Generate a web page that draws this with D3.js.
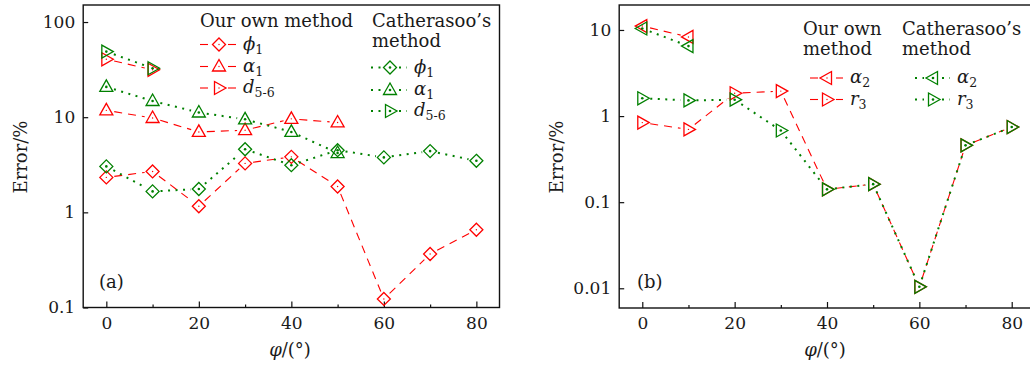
<!DOCTYPE html>
<html>
<head>
<meta charset="utf-8">
<script src="https://cdn.jsdelivr.net/npm/d3@7"></script>
<style>
body { margin: 0; background: #fff; }
text { font-family: "DejaVu Serif", serif; fill: #1a1a1a; }
</style>
</head>
<body>
<div class="canvas"></div>
<script>
// data
const phi = [0, 10, 20, 30, 40, 50, 60, 70, 80];
const phiShort = [0, 10, 20, 30, 40, 50];
const phiPair = [0, 10];

// panel (a)
const ownPhi1 = [2.33, 2.69, 1.16, 3.27, 3.83, 1.87, 0.123, 0.365, 0.656];
const ownAlpha1 = [11.8, 9.8, 7.0, 7.3, 9.6, 8.8];
const ownD56 = [40.6, 31.5];
const cathPhi1 = [3.04, 1.66, 1.76, 4.6, 3.13, 4.5, 3.78, 4.4, 3.48];
const cathAlpha1 = [20.8, 14.8, 11.2, 9.5, 7.0, 4.2];
const cathD56 = [48.9, 32.7];

// panel (b)
const ownAlpha2 = [11.1, 8.3];
const cathAlpha2 = [10.4, 6.5];
const ownR3 = [0.84, 0.70, 1.84, 1.95, 0.141, 0.162, 0.0104, 0.457, 0.746];
const cathR3 = [1.61, 1.52, 1.55, 0.68, 0.141, 0.162, 0.0104, 0.457, 0.746];

const xTicks = [0, 20, 40, 60, 80];
const xMinor = [10, 30, 50, 70];
const yTicksA = [0.1, 1, 10, 100];
const yTicksB = [0.01, 0.1, 1, 10];

const RED = '#ff0000';
const GREEN = '#008000';

const shapes = {
	diamond: 'M0,-6.5L6.5,0L0,6.5L-6.5,0Z',
	up: 'M0,-7L6.5,4.5L-6.5,4.5Z',
	right: 'M-4.5,-6.5L7,0L-4.5,6.5Z',
	left: 'M4.5,-6.5L-7,0L4.5,6.5Z'
};

const styles = {
	own: { color: RED, dash: '8,6', width: 1.1, dot: 0.7 },
	cath: { color: GREEN, dash: '2,5.5', width: 2, dot: 1.3 }
};

const svg = d3.select('.canvas')
	.append('svg')
	.attr('width', 1030)
	.attr('height', 369);

const fmt = d => d >= 1 ? d3.format('d')(d) : String(d);

// one panel: frame, axes, returns scales
const makePanel = (xRange, yDomain, yRange, yTicks) => {
	const x = d3.scaleLinear().domain([-5, 85]).range(xRange);
	const y = d3.scaleLog().domain(yDomain).range(yRange);
	const g = svg.append('g');

	const xAxis = d3.axisBottom(x).tickValues(xTicks).tickFormat(d3.format('d'))
		.tickSizeInner(-6).tickSizeOuter(0).tickPadding(9);
	const xAxisMinor = d3.axisBottom(x).tickValues(xMinor).tickFormat('')
		.tickSizeInner(-3).tickSizeOuter(0);
	const yAxis = d3.axisLeft(y).tickValues(yTicks).tickFormat(fmt)
		.tickSizeInner(-5).tickSizeOuter(0).tickPadding(8);

	[xAxis, xAxisMinor].forEach(ax => {
		g.append('g')
			.attr('transform', `translate(0,${yRange[0]})`)
			.call(ax)
			.call(s => s.select('.domain').remove());
	});
	g.append('g')
		.attr('transform', `translate(${xRange[0]},0)`)
		.call(yAxis)
		.call(s => s.select('.domain').remove());

	g.selectAll('.tick line').attr('stroke', '#111').attr('stroke-width', 1.2);
	g.selectAll('.tick text')
		.style('font-family', '"DejaVu Serif", serif')
		.style('font-size', '17px')
		.attr('fill', '#1a1a1a');

	// frame
	g.append('rect')
		.attr('x', xRange[0])
		.attr('y', yRange[1])
		.attr('width', xRange[1] - xRange[0])
		.attr('height', yRange[0] - yRange[1])
		.attr('fill', 'none')
		.attr('stroke', '#111')
		.attr('stroke-width', 1.4);

	return { g, x, y };
};

// dashed/dotted connecting segments that stop short of the markers
const gap = 8;
const drawSeries = (p, xs, ys, kind, shape) => {
	const st = styles[kind];
	const lines = p.g.append('g');
	for (let i = 0; i < xs.length - 1; i++) {
		const x0 = p.x(xs[i]), y0 = p.y(ys[i]);
		const x1 = p.x(xs[i + 1]), y1 = p.y(ys[i + 1]);
		const len = Math.hypot(x1 - x0, y1 - y0);
		if (len <= 2 * gap) continue;
		const ux = (x1 - x0) / len, uy = (y1 - y0) / len;
		lines.append('line')
			.attr('x1', x0 + ux * gap).attr('y1', y0 + uy * gap)
			.attr('x2', x1 - ux * gap).attr('y2', y1 - uy * gap)
			.attr('stroke', st.color)
			.attr('stroke-width', st.width)
			.attr('stroke-dasharray', st.dash);
	}
	const pts = xs.map((d, i) => [d, ys[i]]);
	const m = p.g.append('g').selectAll('g')
		.data(pts)
		.enter()
		.append('g')
		.attr('transform', d => `translate(${p.x(d[0])},${p.y(d[1])})`);
	m.append('path')
		.attr('d', shapes[shape])
		.attr('fill', 'none')
		.attr('stroke', st.color)
		.attr('stroke-width', 1.3);
	m.append('circle')
		.attr('r', st.dot)
		.attr('fill', st.color);
};

// legend pieces
const legendItem = (x0, xm, x1, yc, kind, shape, sym, sub) => {
	const st = styles[kind];
	const g = svg.append('g');
	[[x0, xm - gap - 1], [xm + gap + 1, x1]].forEach(([a, b]) => {
		g.append('line')
			.attr('x1', a).attr('x2', b).attr('y1', yc).attr('y2', yc)
			.attr('stroke', st.color)
			.attr('stroke-width', st.width)
			.attr('stroke-dasharray', st.dash);
	});
	g.append('path')
		.attr('transform', `translate(${xm},${yc})`)
		.attr('d', shapes[shape])
		.attr('fill', 'none')
		.attr('stroke', st.color)
		.attr('stroke-width', 1.3);
	g.append('circle').attr('cx', xm).attr('cy', yc).attr('r', st.dot).attr('fill', st.color);
	const t = g.append('text')
		.attr('x', x1 + 7)
		.attr('y', yc + 5)
		.style('font-size', '18px');
	t.append('tspan').style('font-style', 'italic').text(sym);
	t.append('tspan')
		.attr('dy', 4)
		.style('font-size', '12.5px')
		.text(sub);
};

const label = (x, y, txt, size, anchor) => svg.append('text')
	.attr('x', x).attr('y', y)
	.attr('text-anchor', anchor || 'start')
	.style('font-size', size + 'px')
	.text(txt);

const axisTitles = (cx, yTitleX) => {
	svg.append('text')
		.attr('transform', `translate(${yTitleX},157) rotate(-90)`)
		.attr('text-anchor', 'middle')
		.style('font-size', '18px')
		.text('Error/%');
	const t = svg.append('text')
		.attr('x', cx).attr('y', 356)
		.attr('text-anchor', 'middle')
		.style('font-size', '18px');
	t.append('tspan').style('font-style', 'italic').text('\u03C6');
	t.append('tspan').text('/(°)');
};

// ---------- panel (a)
const pa = makePanel([83.2, 499.5], [0.1, 151], [307.5, 5], yTicksA);
drawSeries(pa, phi, ownPhi1, 'own', 'diamond');
drawSeries(pa, phiShort, ownAlpha1, 'own', 'up');
drawSeries(pa, phiPair, ownD56, 'own', 'right');
drawSeries(pa, phi, cathPhi1, 'cath', 'diamond');
drawSeries(pa, phiShort, cathAlpha1, 'cath', 'up');
drawSeries(pa, phiPair, cathD56, 'cath', 'right');

label(200, 26.5, 'Our own method', 18);
label(372, 26.5, 'Catherasoo\u2019s', 18);
label(372, 46.5, 'method', 18);
legendItem(200, 219, 236, 44.5, 'own', 'diamond', '\u03D5', '1');
legendItem(200, 219, 236, 66.5, 'own', 'up', '\u03B1', '1');
legendItem(200, 219, 236, 88, 'own', 'right', 'd', '5-6');
legendItem(371, 390, 407, 67.5, 'cath', 'diamond', '\u03D5', '1');
legendItem(371, 390, 407, 90, 'cath', 'up', '\u03B1', '1');
legendItem(371, 390, 407, 111, 'cath', 'right', 'd', '5-6');
label(99, 288, '(a)', 18);
axisTitles(290, 26.5);

// ---------- panel (b)
const pb = makePanel([619.2, 1034.8], [Math.pow(10, -2.229), Math.pow(10, 1.29)], [308, 5], yTicksB);
drawSeries(pb, phiPair, ownAlpha2, 'own', 'left');
drawSeries(pb, phi, ownR3, 'own', 'right');
drawSeries(pb, phiPair, cathAlpha2, 'cath', 'left');
drawSeries(pb, phi, cathR3, 'cath', 'right');

label(803, 34.5, 'Our own', 18);
label(803, 54.5, 'method', 18);
label(902, 34.5, 'Catherasoo\u2019s', 18);
label(902, 54.5, 'method', 18);
legendItem(810, 827, 843, 78, 'own', 'left', '\u03B1', '2');
legendItem(810, 827, 843, 99.5, 'own', 'right', 'r', '3');
legendItem(915, 933, 950, 78, 'cath', 'left', '\u03B1', '2');
legendItem(915, 933, 950, 99.5, 'cath', 'right', 'r', '3');
label(637, 288, '(b)', 18);
axisTitles(825, 563);
</script>
</body>
</html>
